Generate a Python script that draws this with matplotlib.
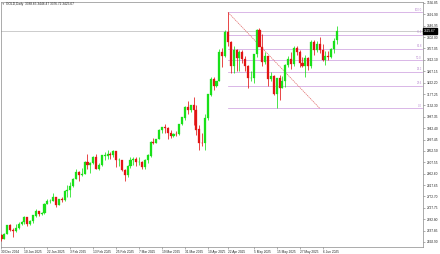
import matplotlib
matplotlib.use('Agg')
import matplotlib.pyplot as plt
import matplotlib.transforms as mtransforms
import pandas as pd
import numpy as np

# ---------------- data ----------------
dates = pd.bdate_range('2024-12-30', '2025-06-13')
dates = dates[~dates.isin(pd.to_datetime(['2025-01-01', '2025-04-18']))]

opens = [2621, 2606,
         2624, 2658, 2640, 2636, 2649, 2662, 2670, 2690, 2663, 2677, 2697, 2714, 2703, 2708, 2744, 2755, 2755, 2770, 2740, 2763, 2760, 2794,
         2798, 2815, 2842, 2867, 2856, 2861, 2907, 2898, 2904, 2928, 2882, 2898, 2934, 2934, 2939, 2936, 2951, 2915, 2916, 2876,
         2857, 2893, 2918, 2920, 2910, 2910, 2889, 2916, 2934, 2988, 2984, 3000, 3034, 3047, 3044, 3023, 3010, 3020, 3018, 3057, 3084,
         3124, 3113, 3133, 3114, 3037, 2983, 2982, 3083, 3175, 3237, 3210, 3229, 3342, 3327, 3423, 3381, 3288, 3349, 3319, 3344, 3316,
         3288, 3239, 3240, 3334, 3431, 3364, 3305, 3326, 3236, 3249, 3178, 3239, 3202, 3230, 3290, 3314, 3295, 3358, 3342, 3301, 3288, 3318,
         3289, 3381, 3353, 3373, 3352, 3310, 3326, 3322, 3354, 3388.65]
highs = [2623, 2630,
         2660, 2665, 2649, 2665, 2670, 2677, 2697, 2692, 2679, 2698, 2724, 2716, 2711, 2745, 2763, 2763, 2786, 2772, 2764, 2770, 2799, 2817,
         2830, 2845, 2882, 2873, 2886, 2911, 2942, 2909, 2934, 2942, 2906, 2936, 2947, 2955, 2948, 2956, 2954, 2925, 2918, 2882,
         2895, 2928, 2930, 2927, 2930, 2912, 2921, 2940, 2990, 3005, 3001, 3038, 3048, 3057, 3047, 3035, 3025, 3032, 3060, 3087, 3128,
         3149, 3135, 3167, 3135, 3055, 3023, 3099, 3175, 3245, 3245, 3229, 3357, 3358, 3430, 3500.05, 3386, 3368, 3354, 3351, 3353, 3327,
         3290, 3269, 3334, 3435, 3438, 3414, 3345, 3327, 3265, 3252, 3240, 3252, 3250, 3296, 3326, 3345, 3366, 3365, 3350, 3325, 3330, 3325,
         3392, 3392, 3385, 3403, 3375, 3349, 3347, 3360, 3398, 3446.47]
lows = [2597, 2603,
        2623, 2635, 2614, 2633, 2645, 2658, 2665, 2656, 2660, 2668, 2690, 2697, 2698, 2702, 2742, 2745, 2754, 2731, 2739, 2751, 2755, 2772,
        2772, 2809, 2841, 2834, 2853, 2860, 2880, 2864, 2902, 2880, 2878, 2893, 2915, 2922, 2920, 2930, 2888, 2894, 2872, 2832,
        2848, 2885, 2895, 2894, 2896, 2880, 2880, 2905, 2930, 2978, 2982, 2999, 3022, 3024, 2999, 3003, 3006, 3013, 3016, 3055, 3076,
        3100, 3105, 3054, 3015, 2956, 2970, 2957, 3074, 3170, 3193, 3205, 3228, 3283, 3324, 3366, 3260, 3260, 3267, 3268, 3300, 3268,
        3202, 3229, 3222, 3324, 3368, 3287, 3297, 3207, 3228, 3172, 3120.8, 3154, 3200, 3204, 3285, 3277, 3287, 3331, 3285, 3285, 3245, 3271,
        3279, 3333, 3344, 3339, 3306, 3292, 3312, 3319, 3341, 3376.72]
closes = [2606, 2624,
          2658, 2640, 2636, 2649, 2662, 2670, 2690, 2663, 2677, 2697, 2714, 2703, 2708, 2744, 2755, 2755, 2770, 2740, 2763, 2760, 2794, 2798,
          2815, 2842, 2867, 2856, 2861, 2907, 2898, 2904, 2928, 2882, 2898, 2934, 2934, 2939, 2936, 2951, 2915, 2916, 2876, 2857,
          2893, 2918, 2920, 2910, 2910, 2889, 2916, 2934, 2988, 2984, 3000, 3034, 3047, 3044, 3023, 3010, 3020, 3018, 3057, 3084, 3124,
          3113, 3133, 3114, 3037, 2983, 2982, 3083, 3175, 3237, 3210, 3229, 3342, 3327, 3423, 3381, 3288, 3349, 3319, 3344, 3316, 3288,
          3239, 3240, 3334, 3431, 3364, 3305, 3326, 3236, 3249, 3178, 3239, 3202, 3230, 3290, 3314, 3295, 3358, 3342, 3301, 3288, 3318, 3289,
          3381, 3353, 3373, 3352, 3310, 3326, 3322, 3354, 3388, 3425.67]

x_label_dates = ['2024-12-30', '2025-01-10', '2025-01-22', '2025-02-03', '2025-02-13', '2025-02-25',
                 '2025-03-07', '2025-03-19', '2025-03-31', '2025-04-10', '2025-04-22', '2025-05-05',
                 '2025-05-15', '2025-05-27', '2025-06-06']
x_labels = ['30 Dec 2024', '10 Jan 2025', '22 Jan 2025', '3 Feb 2025', '13 Feb 2025', '25 Feb 2025',
            '7 Mar 2025', '19 Mar 2025', '31 Mar 2025', '10 Apr 2025', '22 Apr 2025', '5 May 2025',
            '15 May 2025', '27 May 2025', '6 Jun 2025']

price_ticks = [3536.85, 3491.90, 3446.95, 3402.00, 3357.05, 3312.10, 3267.15, 3222.20, 3177.25,
               3132.30, 3087.35, 3042.40, 2997.45, 2952.50, 2907.55, 2862.60, 2817.65, 2772.70,
               2727.75, 2682.80, 2637.85, 2592.90]

fib_start_date = '2025-04-22'
fib_end_date = '2025-06-05'
fib_high = 3500.05
fib_low = 3120.80
fib_levels = [0.0, 23.6, 38.2, 50.0, 61.8, 76.4, 100.0]

title_text = 'GOLD,Daily  3388.65 3446.47 3376.72 3425.67'
bid_price = 3425.67

# ---------------- style ----------------
BULL = '#19e019'
BEAR = '#e21414'
FIB_C = '#cfa3e0'
FIB_T = '#b98ad0'
FS = 2.3

plt.rcParams['font.family'] = ['Liberation Sans', 'DejaVu Sans']

W, H = 440, 254
fig = plt.figure(figsize=(W / 100, H / 100), dpi=100)
fig.patch.set_facecolor('white')
ax = fig.add_axes([0.5 / W, 1 - 247 / H, 422.5 / W, 245 / H])
ax.set_facecolor('white')

px_per_bar = 2.87
ax.set_xlim(-1 / px_per_bar, 422 / px_per_bar)
ax.set_ylim(2572.9, 3540.7)

idx = np.arange(len(closes))
o = np.array(opens); h = np.array(highs); l = np.array(lows); c = np.array(closes)
up = c >= o
cols = np.where(up, BULL, BEAR)

ax.vlines(idx, l, h, colors=cols, linewidth=0.55, zorder=3)
ax.bar(idx, np.abs(c - o) + 0.5, bottom=np.minimum(o, c), width=0.72,
       color=cols, edgecolor=cols, linewidth=0.2, zorder=4)

# bid line
ax.axhline(bid_price, color='#b8b8b8', linewidth=0.5, zorder=1)

# fibonacci
date_pos = {d.strftime('%Y-%m-%d'): i for i, d in enumerate(dates)}
fs_i = date_pos[fib_start_date]
fe_i = date_pos[fib_end_date]
xr = ax.get_xlim()[1] - 0.4
for lv in fib_levels:
    p = fib_low + (fib_high - fib_low) * lv / 100.0
    ax.plot([fs_i, xr], [p, p], color=FIB_C, linewidth=0.55, zorder=2)
    ax.text(xr, p + 2, f'{lv:.1f}', color=FIB_T, fontsize=FS * 0.85,
            ha='right', va='bottom', zorder=5)
ax.plot([fs_i, fe_i], [fib_high, fib_low], color='#e06a6a', linewidth=0.5,
        linestyle=(0, (2, 1)), zorder=2)

# axes styling
for s in ax.spines.values():
    s.set_color('#8a8a8a')
    s.set_linewidth(0.5)

ax.yaxis.tick_right()
ax.set_yticks(price_ticks)
ax.set_yticklabels([f'{v:.2f}' for v in price_ticks])
ax.tick_params(axis='y', which='both', length=1.5, width=0.4, color='#707070',
               labelsize=FS, pad=1, labelcolor='#222222')

xt = [date_pos[d] for d in x_label_dates]
ax.set_xticks(xt)
ax.set_xticklabels(x_labels, ha='left')
ax.tick_params(axis='x', which='both', length=1.5, width=0.4, color='#707070',
               labelsize=FS, pad=0.8, labelcolor='#222222')

# bid label box
trans = mtransforms.blended_transform_factory(ax.transAxes, ax.transData)
ax.text(1.003, bid_price, f'{bid_price:.2f}', transform=trans, fontsize=FS,
        color='white', ha='left', va='center', zorder=10,
        bbox=dict(boxstyle='square,pad=0.25', facecolor='black', edgecolor='black'))

# title
fig.text(2 / W, 1 - 3.5 / H, '▼', fontsize=FS * 0.8, color='#555555', va='center', ha='left')
fig.text(6 / W, 1 - 3.5 / H, title_text, fontsize=FS, color='#222222', va='center', ha='left')

fig.savefig('out.png', dpi=100, facecolor='white')
